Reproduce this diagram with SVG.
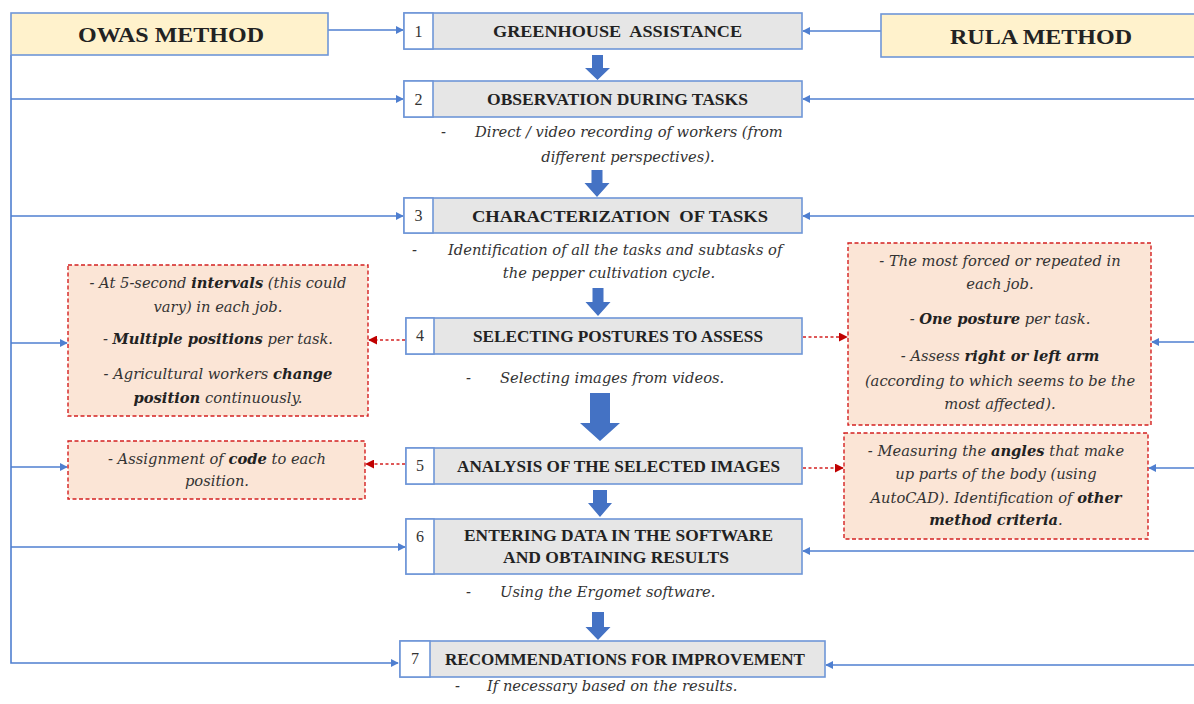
<svg xmlns="http://www.w3.org/2000/svg" width="1194" height="704" viewBox="0 0 1194 704">
<defs>
<style>
.ln{stroke:#4f7fd0;stroke-width:1.6;fill:none}
.rd{stroke:#d42020;stroke-width:1.5;stroke-dasharray:3,2.5;fill:none}
.step{fill:#e6e6e6;stroke:#6f96d8;stroke-width:1.6}
.num{fill:#ffffff;stroke:#6f96d8;stroke-width:1.6}
.meth{fill:#fff2cc;stroke:#6f96d8;stroke-width:1.6}
.note{fill:#fbe5d6;stroke:#d42020;stroke-width:1.4;stroke-dasharray:4,2.5}
.big{fill:#4472c4}
.h{font-family:"Liberation Serif",serif;font-weight:bold;fill:#222;text-anchor:middle}
.n{font-family:"Liberation Serif",serif;font-size:16px;fill:#333;text-anchor:middle}
.d{font-family:"DejaVu Serif","Liberation Serif",serif;font-style:italic;font-size:14.7px;fill:#333}
.c{text-anchor:middle}
.b{font-weight:bold;fill:#222}
</style>
<marker id="ab" viewBox="0 0 10 10" refX="9" refY="5" markerWidth="8" markerHeight="8" markerUnits="userSpaceOnUse" orient="auto"><path d="M0,0 L10,5 L0,10 z" fill="#4f7fd0"/></marker>
<marker id="ar" viewBox="0 0 10 10" refX="9" refY="5" markerWidth="9" markerHeight="9" markerUnits="userSpaceOnUse" orient="auto"><path d="M0,0 L10,5 L0,10 z" fill="#c00000"/></marker>
</defs>
<rect width="1194" height="704" fill="#ffffff"/>

<g id="connectors">
<polyline class="ln" points="11,55 11,663 398,663" marker-end="url(#ab)"/>
<line class="ln" x1="328" y1="30" x2="403" y2="30" marker-end="url(#ab)"/>
<line class="ln" x1="11" y1="99" x2="403" y2="99" marker-end="url(#ab)"/>
<line class="ln" x1="11" y1="216" x2="403" y2="216" marker-end="url(#ab)"/>
<line class="ln" x1="11" y1="343" x2="67" y2="343" marker-end="url(#ab)"/>
<line class="ln" x1="11" y1="467" x2="67" y2="467" marker-end="url(#ab)"/>
<line class="ln" x1="11" y1="547" x2="405" y2="547" marker-end="url(#ab)"/>
<line class="ln" x1="881" y1="31" x2="803" y2="31" marker-end="url(#ab)"/>
<line class="ln" x1="1194" y1="99" x2="803" y2="99" marker-end="url(#ab)"/>
<line class="ln" x1="1194" y1="216" x2="803" y2="216" marker-end="url(#ab)"/>
<line class="ln" x1="1194" y1="342" x2="1152" y2="342" marker-end="url(#ab)"/>
<line class="ln" x1="1194" y1="468" x2="1149" y2="468" marker-end="url(#ab)"/>
<line class="ln" x1="1194" y1="551" x2="803" y2="551" marker-end="url(#ab)"/>
<line class="ln" x1="1194" y1="665" x2="826" y2="665" marker-end="url(#ab)"/>
<line class="rd" x1="405" y1="340" x2="369" y2="340" marker-end="url(#ar)"/>
<line class="rd" x1="405" y1="464" x2="366" y2="464" marker-end="url(#ar)"/>
<line class="rd" x1="803" y1="337" x2="847" y2="337" marker-end="url(#ar)"/>
<line class="rd" x1="803" y1="468" x2="843" y2="468" marker-end="url(#ar)"/>
<path class="big" d="M592,55 H603 V68 H610 L597.5,80 L585,68 H592 Z"/>
<path class="big" d="M591.5,170 H602.5 V183 H609.5 L597,197 L584.5,183 H591.5 Z"/>
<path class="big" d="M592.5,288 H603.5 V302 H610.5 L598,316 L585.5,302 H592.5 Z"/>
<path class="big" d="M590,393 H610 V423 H620 L600,441 L580,423 H590 Z"/>
<path class="big" d="M593,490 H607 V503 H612 L600,517 L588,503 H593 Z"/>
<path class="big" d="M592,612 H604 V627 H610.5 L598,640 L585.5,627 H592 Z"/>
</g>

<g id="owas">
<rect class="meth" x="11" y="13" width="317" height="42"/>
<text class="h" x="171" y="42" font-size="22" textLength="186" lengthAdjust="spacingAndGlyphs">OWAS METHOD</text>
</g>
<g id="rula">
<rect class="meth" x="881" y="14" width="320" height="43"/>
<text class="h" x="1041" y="44" font-size="22" textLength="182" lengthAdjust="spacingAndGlyphs">RULA METHOD</text>
</g>

<g id="step1">
<rect class="step" x="404" y="13" width="398" height="36"/>
<rect class="num" x="404" y="13" width="29" height="36"/>
<text class="n" x="418.5" y="37">1</text>
<text class="h" x="617.5" y="36.5" font-size="16.5" xml:space="preserve" textLength="249" lengthAdjust="spacingAndGlyphs">GREENHOUSE  ASSISTANCE</text>
</g>

<g id="step2">
<rect class="step" x="404" y="81" width="398" height="36"/>
<rect class="num" x="404" y="81" width="29" height="36"/>
<text class="n" x="418.5" y="105">2</text>
<text class="h" x="617.5" y="104.5" font-size="16.5" textLength="261" lengthAdjust="spacingAndGlyphs">OBSERVATION DURING TASKS</text>
<text class="d" x="441" y="137">-</text>
<text class="d" x="475" y="137">Direct / video recording of workers (from</text>
<text class="d c" x="628" y="162">different perspectives).</text>
</g>

<g id="step3">
<rect class="step" x="404" y="198" width="398" height="35"/>
<rect class="num" x="404" y="198" width="29" height="35"/>
<text class="n" x="418.5" y="221">3</text>
<text class="h" x="620" y="221.5" font-size="17.5" xml:space="preserve" textLength="296" lengthAdjust="spacingAndGlyphs">CHARACTERIZATION  OF TASKS</text>
<text class="d" x="412" y="255">-</text>
<text class="d" x="448" y="255">Identification of all the tasks and subtasks of</text>
<text class="d c" x="609" y="278">the pepper cultivation cycle.</text>
</g>

<g id="step4">
<rect class="step" x="406" y="318" width="396" height="36"/>
<rect class="num" x="406" y="318" width="28" height="36"/>
<text class="n" x="420" y="341">4</text>
<text class="h" x="618" y="341.5" font-size="16.5" textLength="290" lengthAdjust="spacingAndGlyphs">SELECTING POSTURES TO ASSESS</text>
<text class="d" x="466" y="383">-</text>
<text class="d" x="500" y="383">Selecting images from videos.</text>
</g>

<g id="step5">
<rect class="step" x="406" y="448" width="396" height="36"/>
<rect class="num" x="406" y="448" width="28" height="36"/>
<text class="n" x="420" y="471">5</text>
<text class="h" x="618.5" y="471.5" font-size="16.5" textLength="323" lengthAdjust="spacingAndGlyphs">ANALYSIS OF THE SELECTED IMAGES</text>
</g>

<g id="step6">
<rect class="step" x="406" y="519" width="396" height="55"/>
<rect class="num" x="406" y="519" width="28" height="55"/>
<text class="n" x="420" y="542">6</text>
<text class="h" x="618.5" y="541" font-size="16.5" textLength="309" lengthAdjust="spacingAndGlyphs">ENTERING DATA IN THE SOFTWARE</text>
<text class="h" x="616" y="563" font-size="16.5" textLength="226" lengthAdjust="spacingAndGlyphs">AND OBTAINING RESULTS</text>
<text class="d" x="466" y="597">-</text>
<text class="d" x="500" y="597">Using the Ergomet software.</text>
</g>

<g id="step7">
<rect class="step" x="400" y="641" width="425" height="36"/>
<rect class="num" x="400" y="641" width="30" height="36"/>
<text class="n" x="415" y="664">7</text>
<text class="h" x="625" y="664.5" font-size="16.5" textLength="360" lengthAdjust="spacingAndGlyphs">RECOMMENDATIONS FOR IMPROVEMENT</text>
<text class="d" x="455" y="691">-</text>
<text class="d" x="487" y="691">If necessary based on the results.</text>
</g>

<g id="owas-step4">
<rect class="note" x="68" y="265" width="300" height="151"/>
<text class="d c" x="218" y="288">- At 5-second <tspan class="b">intervals</tspan> (this could</text>
<text class="d c" x="218" y="312">vary) in each job.</text>
<text class="d c" x="218" y="344">- <tspan class="b">Multiple positions</tspan> per task.</text>
<text class="d c" x="218" y="379">- Agricultural workers <tspan class="b">change</tspan></text>
<text class="d c" x="218" y="403"><tspan class="b">position</tspan> continuously.</text>
</g>

<g id="owas-step5">
<rect class="note" x="68" y="441" width="297" height="58"/>
<text class="d c" x="217" y="464">- Assignment of <tspan class="b">code</tspan> to each</text>
<text class="d c" x="217" y="486">position.</text>
</g>

<g id="rula-step4">
<rect class="note" x="848" y="243" width="303" height="182"/>
<text class="d c" x="1000" y="266">- The most forced or repeated in</text>
<text class="d c" x="1000" y="289">each job.</text>
<text class="d c" x="1000" y="324">- <tspan class="b">One posture</tspan> per task.</text>
<text class="d c" x="1000" y="361">- Assess <tspan class="b">right or left arm</tspan></text>
<text class="d c" x="1000" y="386">(according to which seems to be the</text>
<text class="d c" x="1000" y="409">most affected).</text>
</g>

<g id="rula-step5">
<rect class="note" x="844" y="433" width="304" height="106"/>
<text class="d c" x="996" y="456">- Measuring the <tspan class="b">angles</tspan> that make</text>
<text class="d c" x="996" y="479">up parts of the body (using</text>
<text class="d c" x="996" y="503">AutoCAD). Identification of <tspan class="b">other</tspan></text>
<text class="d c" x="996" y="525"><tspan class="b">method criteria</tspan>.</text>
</g>
</svg>
